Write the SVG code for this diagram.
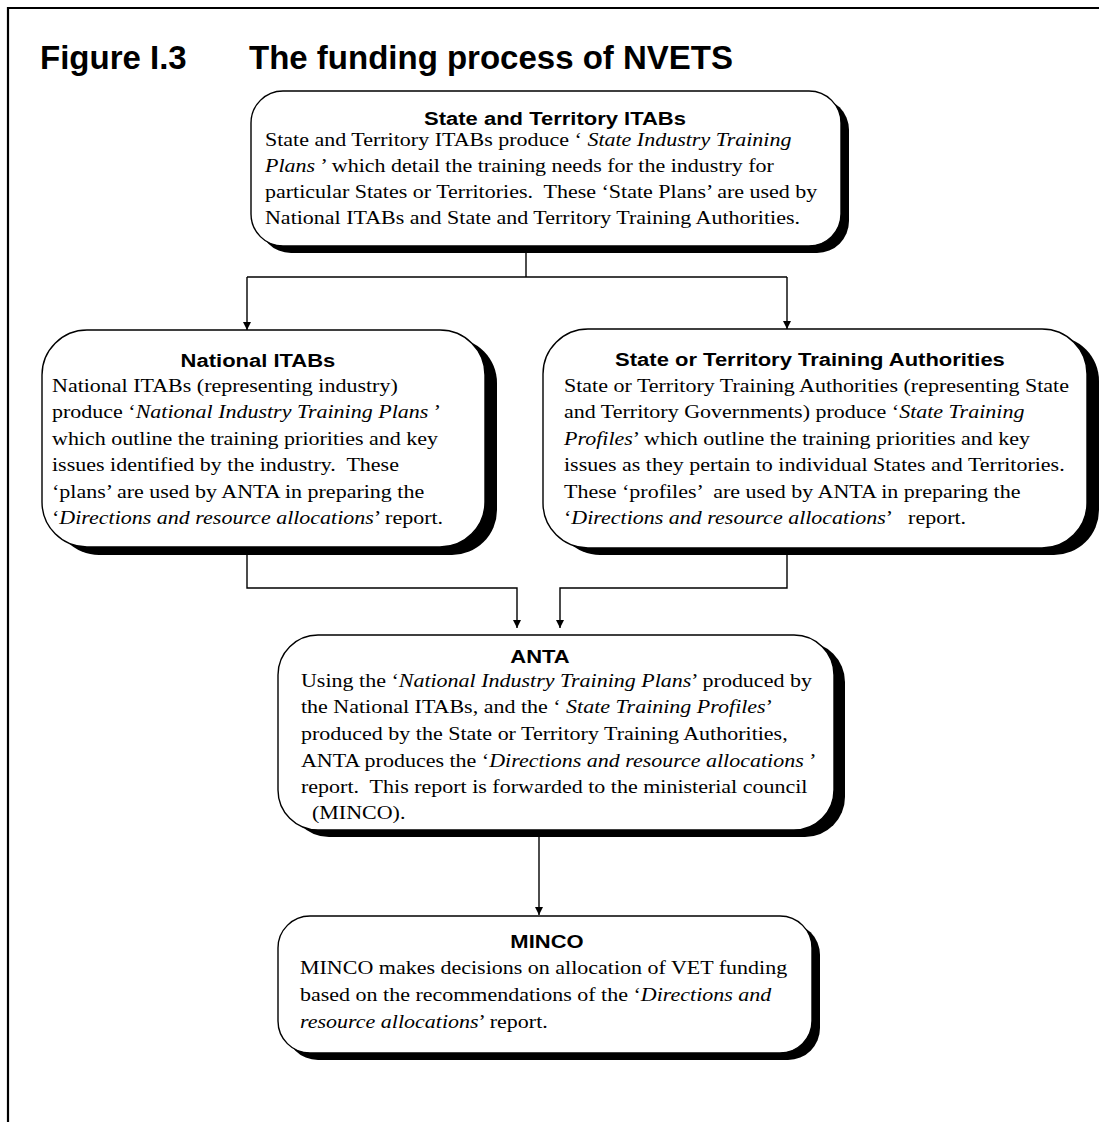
<svg xmlns="http://www.w3.org/2000/svg" width="1099" height="1122" viewBox="0 0 1099 1122">
<defs>
<style>
.frame{fill:none;stroke:#000;stroke-width:2.2}
.box{fill:#fff;stroke:#000;stroke-width:1.4}
.shadow{fill:#000}
.hd{font-family:"Liberation Sans",Arial,sans-serif;font-weight:bold;font-size:22px;text-anchor:middle;fill:#000}
.bd{font-family:"Liberation Serif","Times New Roman",serif;font-size:22px;fill:#000}
.it{font-style:italic}
.title{font-family:"Liberation Sans",Arial,sans-serif;font-weight:bold;font-size:33px;fill:#000}
.conn{fill:none;stroke:#000;stroke-width:1.4}
</style>
<marker id="arr" markerWidth="10" markerHeight="10" refX="8" refY="4" orient="auto" markerUnits="userSpaceOnUse"><path d="M0,0 L8,4 L0,8 z" fill="#000"/></marker>
</defs>
<rect width="1099" height="1122" fill="#fff"/>
<path class="frame" d="M8,1122 V8 H1099"/>
<text class="title" x="40" y="69">Figure I.3<tspan x="249">The funding process of NVETS</tspan></text>

<g id="node-state-itabs">
<rect class="shadow" x="259" y="98" width="590" height="155" rx="32" ry="32"/>
<rect class="box" x="251" y="91" width="590" height="155" rx="32" ry="32"/>
<text class="hd" transform="scale(1,0.85)" x="555" y="147.06">State and Territory ITABs</text>
<text class="bd" transform="scale(1,0.82)" xml:space="preserve"><tspan x="265" y="178.05">State and Territory ITABs produce ‘ <tspan class="it">State Industry Training</tspan></tspan><tspan x="265" y="209.76"><tspan class="it">Plans</tspan> ’ which detail the training needs for the industry for</tspan><tspan x="265" y="241.46">particular States or Territories.  These ‘State Plans’ are used by</tspan><tspan x="265" y="273.17">National ITABs and State and Territory Training Authorities.</tspan></text>
</g>

<g id="node-national-itabs">
<rect class="shadow" x="54" y="338" width="443" height="217" rx="45" ry="45"/>
<rect class="box" x="42" y="330" width="443" height="217" rx="45" ry="45"/>
<text class="hd" transform="scale(1,0.85)" x="258" y="431.76">National ITABs</text>
<text class="bd" transform="scale(1,0.82)" xml:space="preserve"><tspan x="52" y="478.05">National ITABs (representing industry)</tspan><tspan x="52" y="510.37">produce ‘<tspan class="it">National Industry Training Plans</tspan> ’</tspan><tspan x="52" y="542.68">which outline the training priorities and key</tspan><tspan x="52" y="575">issues identified by the industry.  These</tspan><tspan x="52" y="607.32">‘plans’ are used by ANTA in preparing the</tspan><tspan x="52" y="639.63">‘<tspan class="it">Directions and resource allocations</tspan>’ report.</tspan></text>
</g>

<g id="node-state-authorities">
<rect class="shadow" x="555" y="336" width="544" height="219" rx="45" ry="45"/>
<rect class="box" x="543" y="329" width="544" height="219" rx="45" ry="45"/>
<text class="hd" transform="scale(1,0.85)" x="810" y="430.59">State or Territory Training Authorities</text>
<text class="bd" transform="scale(1,0.82)" xml:space="preserve"><tspan x="564" y="478.05">State or Territory Training Authorities (representing State</tspan><tspan x="564" y="510.37">and Territory Governments) produce ‘<tspan class="it">State Training</tspan></tspan><tspan x="564" y="542.68"><tspan class="it">Profiles</tspan>’ which outline the training priorities and key</tspan><tspan x="564" y="575">issues as they pertain to individual States and Territories.</tspan><tspan x="564" y="607.32">These ‘profiles’  are used by ANTA in preparing the</tspan><tspan x="564" y="639.63">‘<tspan class="it">Directions and resource allocations</tspan>’   report.</tspan></text>
</g>

<g id="node-anta">
<rect class="shadow" x="289" y="642" width="556" height="195" rx="40" ry="40"/>
<rect class="box" x="278" y="635" width="556" height="195" rx="40" ry="40"/>
<text class="hd" transform="scale(1,0.85)" x="540" y="780">ANTA</text>
<text class="bd" transform="scale(1,0.82)" xml:space="preserve"><tspan x="301" y="837.8">Using the ‘<tspan class="it">National Industry Training Plans</tspan>’ produced by</tspan><tspan x="301" y="870.12">the National ITABs, and the ‘ <tspan class="it">State Training Profiles</tspan>’</tspan><tspan x="301" y="902.44">produced by the State or Territory Training Authorities,</tspan><tspan x="301" y="934.76">ANTA produces the ‘<tspan class="it">Directions and resource allocations</tspan> ’</tspan><tspan x="301" y="967.07">report.  This report is forwarded to the ministerial council</tspan><tspan x="312" y="999.39">(MINCO).</tspan></text>
</g>

<g id="node-minco">
<rect class="shadow" x="286" y="923" width="534" height="137" rx="32" ry="32"/>
<rect class="box" x="278" y="916" width="534" height="137" rx="32" ry="32"/>
<text class="hd" transform="scale(1,0.85)" x="547" y="1115.29">MINCO</text>
<text class="bd" transform="scale(1,0.82)" xml:space="preserve"><tspan x="300" y="1187.8">MINCO makes decisions on allocation of VET funding</tspan><tspan x="300" y="1220.73">based on the recommendations of the ‘<tspan class="it">Directions and</tspan></tspan><tspan x="300" y="1253.66"><tspan class="it">resource allocations</tspan>’ report.</tspan></text>
</g>

<g id="connectors" class="conn">
<path d="M526,253 V277"/>
<path d="M247,277 H787"/>
<path d="M247,277 V330" marker-end="url(#arr)"/>
<path d="M787,277 V329" marker-end="url(#arr)"/>
<path d="M247,555 V588 H517 V628" marker-end="url(#arr)"/>
<path d="M787,555 V588 H560 V628" marker-end="url(#arr)"/>
<path d="M539,837 V915" marker-end="url(#arr)"/>
</g>
</svg>
